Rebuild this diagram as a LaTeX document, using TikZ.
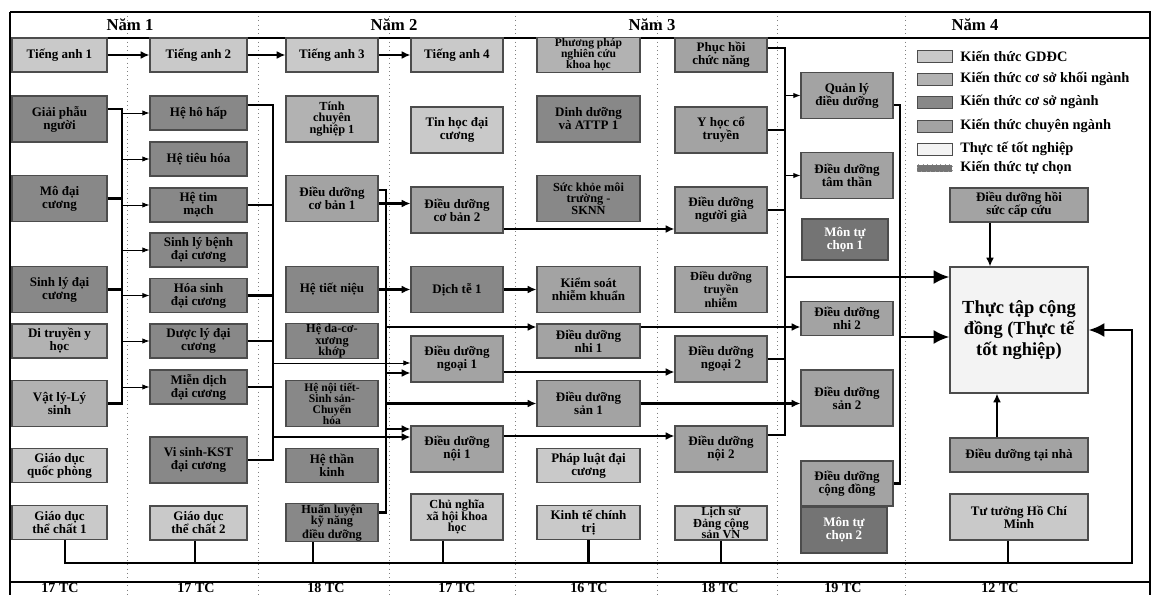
\documentclass[tikz,border=0pt]{standalone}
\usepackage{fontspec}
\setmainfont{Liberation Serif}
\usetikzlibrary{arrows.meta}
\definecolor{cgddc}{HTML}{C9C9C9}
\definecolor{ccskn}{HTML}{B2B2B2}
\definecolor{ccsn}{HTML}{888888}
\definecolor{ccn}{HTML}{A3A3A3}
\definecolor{ctttn}{HTML}{F3F3F3}
\definecolor{ctc}{HTML}{747474}
\tikzset{box/.style={draw=black!70, line width=0.6pt, align=center, inner sep=0.5pt,
   font=\bfseries\fontsize{7.4}{7.4}\selectfont},
 gddc/.style={box, fill=cgddc},
 cskn/.style={box, fill=ccskn},
 csn/.style={box, fill=ccsn},
 cn/.style={box, fill=ccn},
 tttn/.style={box, fill=ctttn, font=\bfseries\fontsize{10.5}{12}\selectfont},
 tuchon/.style={box, fill=ctc, text=white},
 tight/.style={font=\bfseries\fontsize{7}{6.5}\selectfont},
 tighter/.style={font=\bfseries\fontsize{6.6}{6.3}\selectfont},
 sh/.style={minimum height=0.68cm},
 tl/.style={minimum height=0.92cm},
 c1/.style={minimum width=1.9cm},
 c2/.style={minimum width=1.94cm},
 c3/.style={minimum width=1.84cm},
 c5/.style={minimum width=2.06cm},
 c8/.style={minimum width=2.76cm},
 bus/.style={line width=1.3pt},
 arr/.style={-{Latex[length=4pt,width=3pt]}, line width=0.5pt},
 arrT/.style={-{Latex[length=5pt,width=4.5pt]}, line width=1.3pt},
 arrB/.style={-{Latex[length=9pt,width=8pt]}, line width=1.6pt},
 year/.style={font=\bfseries\fontsize{9.5}{10}\selectfont},
 credit/.style={font=\bfseries\fontsize{8}{8}\selectfont, inner sep=0pt},
 swatch/.style={draw=black!70, line width=0.5pt, minimum width=0.7cm, minimum height=0.24cm, inner sep=0pt},
 legend/.style={anchor=west, font=\bfseries\fontsize{8.2}{9}\selectfont, inner sep=0pt},
}
\begin{document}
\begin{tikzpicture}[x=0.02cm, y=-0.02cm]
\useasboundingbox (0,0) rectangle (1156,595);
% frame and year columns
\foreach \x in {127,258,389,515,657,777,905}
  \draw[dotted, black!50] (\x,12) -- (\x,595);
\draw[line width=0.6pt] (10,12) -- (1150,12) -- (1150,595);
\draw[line width=0.6pt] (10,38) -- (1150,38);
\draw[line width=0.6pt] (10,582) -- (1150,582);
\draw[line width=1.4pt] (10,12) -- (10,595);
\node[year] (n1) at (130,25) {Năm 1};
\node[year] (n2) at (394,25) {Năm 2};
\node[year] (n3) at (652,25) {Năm 3};
\node[year] (n4) at (975,25) {Năm 4};
\node[credit] (tc1a) at (60,588) {17 TC};
\node[credit] (tc2a) at (196,588) {17 TC};
\node[credit] (tc3a) at (326,588) {18 TC};
\node[credit] (tc4a) at (457,588) {17 TC};
\node[credit] (tc5a) at (589,588) {16 TC};
\node[credit] (tc6a) at (720,588) {18 TC};
\node[credit] (tc7a) at (843,588) {19 TC};
\node[credit] (tc8a) at (1000,588) {12 TC};

% nam 1
\node[gddc, c1, sh] (ta1) at (59.5,55) {Tiếng anh 1};
\node[csn, c1, tl] (gp) at (59.5,119) {Giải phẫu\\người};
\node[csn, c1, tl] (mo) at (59.5,198.5) {Mô đại\\cương};
\node[csn, c1, tl] (sl) at (59.5,289.5) {Sinh lý đại\\cương};
\node[cskn, c1, sh] (dt) at (59.5,341) {Di truyền y\\học};
\node[cskn, c1, tl] (vl) at (59.5,403.5) {Vật lý-Lý\\sinh};
\node[gddc, c1, sh] (qp) at (59.5,465.5) {Giáo dục\\quốc phòng};
\node[gddc, c1, sh] (tc1) at (59.5,522.5) {Giáo dục\\thể chất 1};

\node[gddc, c2, sh] (ta2) at (198.5,55) {Tiếng anh 2};
\node[csn, c2, sh] (hhh) at (198.5,113) {Hệ hô hấp};
\node[csn, c2, sh] (htd) at (198.5,159) {Hệ tiêu hóa};
\node[csn, c2, sh] (htm) at (198.5,205) {Hệ tim\\mạch};
\node[csn, c2, sh] (slb) at (198.5,250) {Sinh lý bệnh\\đại cương};
\node[csn, c2, sh] (hs) at (198.5,295.5) {Hóa sinh\\đại cương};
\node[csn, c2, sh] (dl) at (198.5,341) {Dược lý đại\\cương};
\node[csn, c2, sh] (md) at (198.5,387) {Miễn dịch\\đại cương};
\node[csn, c2, tl] (vs) at (198.5,460) {Vi sinh-KST\\đại cương};
\node[gddc, c2, sh] (tc2) at (198.5,523) {Giáo dục\\thể chất 2};

% nam 2
\node[gddc, c3, sh] (ta3) at (332,55) {Tiếng anh 3};
\node[cskn, c3, tl, tight] (tcn) at (332,119) {Tính\\chuyên\\nghiệp 1};
\node[cn, c3, tl] (dcb1) at (332,198.5) {Điều dưỡng\\cơ bản 1};
\node[csn, c3, tl] (htn) at (332,289.5) {Hệ tiết niệu};
\node[csn, c3, sh, tight] (hdc) at (332,341) {Hệ da-cơ-\\xương\\khớp};
\node[csn, c3, tl, tighter] (hnt) at (332,403.5) {Hệ nội tiết-\\Sinh sản-\\Chuyển\\hóa};
\node[csn, c3, sh] (htk) at (332,465.5) {Hệ thần\\kinh};
\node[csn, c3, sh, tight] (hlkn) at (332,522.5) {Huấn luyện\\kỹ năng\\điều dưỡng};

\node[gddc, c3, sh] (ta4) at (457,55) {Tiếng anh 4};
\node[gddc, c3, tl] (thdc) at (457,130) {Tin học đại\\cương};
\node[cn, c3, tl] (dcb2) at (457,210) {Điều dưỡng\\cơ bản 2};
\node[csn, c3, tl] (dte) at (457,289.5) {Dịch tễ 1};
\node[cn, c3, tl] (dng1) at (457,359) {Điều dưỡng\\ngoại 1};
\node[cn, c3, tl] (dnoi1) at (457,449) {Điều dưỡng\\nội 1};
\node[gddc, c3, tl, tight] (cnxh) at (457,517) {Chủ nghĩa\\xã hội khoa\\học};

% nam 3
\node[cskn, c5, sh, tighter] (ppnc) at (588.5,55) {Phương pháp\\nghiên cứu\\khoa học};
\node[csn, c5, tl] (ddat) at (588.5,119) {Dinh dưỡng\\và ATTP 1};
\node[csn, c5, tl, tight] (skmt) at (588.5,198.5) {Sức khỏe môi\\trường -\\SKNN};
\node[cn, c5, tl] (ksnk) at (588.5,289.5) {Kiểm soát\\nhiễm khuẩn};
\node[cn, c5, sh] (dnhi1) at (588.5,341) {Điều dưỡng\\nhi 1};
\node[cn, c5, tl] (dsan1) at (588.5,403.5) {Điều dưỡng\\sản 1};
\node[gddc, c5, sh] (pl) at (588.5,465.5) {Pháp luật đại\\cương};
\node[gddc, c5, sh] (ktct) at (588.5,522.5) {Kinh tế chính\\trị};

\node[cn, c3, sh] (phcn) at (721,55) {Phục hồi\\chức năng};
\node[cn, c3, tl] (yhct) at (721,130) {Y học cổ\\truyền};
\node[cn, c3, tl] (dnga) at (721,210) {Điều dưỡng\\người già};
\node[cn, c3, tl, tight] (dtn) at (721,289.5) {Điều dưỡng\\truyền\\nhiễm};
\node[cn, c3, tl] (dng2) at (721,359) {Điều dưỡng\\ngoại 2};
\node[cn, c3, tl] (dnoi2) at (721,449) {Điều dưỡng\\nội 2};
\node[gddc, c3, sh, tight] (lsd) at (721,523) {Lịch sử\\Đảng cộng\\sản VN};

% nam 4
\node[cn, c3, tl] (qldd) at (847,95.5) {Quản lý\\điều dưỡng};
\node[cn, c3, tl] (dtt) at (847,175.5) {Điều dưỡng\\tâm thần};
\node[tuchon, minimum width=1.72cm, minimum height=0.82cm] (mtc1) at (845,239.5) {Môn tự\\chọn 1};
\node[cn, c3, sh] (dnhi2) at (847,318.5) {Điều dưỡng\\nhi 2};
\node[cn, c3, minimum height=1.12cm] (dsan2) at (847,398) {Điều dưỡng\\sản 2};
\node[cn, c3, minimum height=0.9cm] (dcd) at (847,483.5) {Điều dưỡng\\cộng đồng};
\node[tuchon, minimum width=1.72cm, minimum height=0.92cm] (mtc2) at (844,530) {Môn tự\\chọn 2};

\node[cn, c8, sh] (dhs) at (1019,205) {Điều dưỡng hồi\\sức cấp cứu};
\node[tttn, c8, minimum height=2.52cm] (tt) at (1019,330) {Thực tập cộng\\đồng (Thực tế\\tốt nghiệp)};
\node[cn, c8, sh] (dtnha) at (1019,455) {Điều dưỡng tại nhà};
\node[gddc, c8, tl] (tthcm) at (1019,517) {Tư tưởng Hồ Chí\\Minh};

% legend
\node[swatch, fill=cgddc] (s1) at (934.5,56) {};
\node[swatch, fill=ccskn] (s2) at (934.5,79) {};
\node[swatch, fill=ccsn] (s3) at (934.5,102) {};
\node[swatch, fill=ccn] (s4) at (934.5,126) {};
\node[swatch, fill=ctttn] (s5) at (934.5,149) {};
\node[swatch, fill=ctc, draw=black!40, dotted, minimum height=0.14cm] (s6) at (934.5,168) {};
\node[legend] (l1) at (960,56) {Kiến thức GDĐC};
\node[legend] (l2) at (960,79) {Kiến thức cơ sở khối ngành};
\node[legend] (l3) at (960,102) {Kiến thức cơ sở ngành};
\node[legend] (l4) at (960,126) {Kiến thức chuyên ngành};
\node[legend] (l5) at (960,149) {Thực tế tốt nghiệp};
\node[legend] (l6) at (960,168) {Kiến thức tự chọn};

% tieng anh
\draw[arrT] (ta1) -- (ta2);
\draw[arrT] (ta2) -- (ta3);
\draw[arrT] (ta3) -- (ta4);

% nam 1 -> he co quan
\coordinate (b1t) at (122,109);
\draw[bus] (gp.east |- b1t) -- (b1t) |- (vl.east);
\foreach \n in {mo,sl}
  \draw[bus] (\n.east) -- (\n.east -| b1t);
\foreach \n in {hhh,htd,htm,slb,hs,dl,md}
  \draw[arr] (\n.west -| b1t) -- (\n.west);

\coordinate (b2t) at (273,105);
\draw[bus] (hhh.east |- b2t) -- (b2t) |- (vs.east);
\foreach \n in {htm,hs,dl,md}
  \draw[bus] (\n.east) -- (\n.east -| b2t);
\coordinate (p1) at ([yshift=-0.08cm]dng1.west);
\draw[arr] (b2t |- p1) -- (p1);
\coordinate (p2) at ([yshift=0.24cm]dnoi1.west);
\draw[arrT] (b2t |- p2) -- (p2);

% nam 2
\coordinate (b3t) at (386,190);
\draw[bus] (dcb1.east |- b3t) -- (b3t) |- ([yshift=0.2cm]hlkn.east);
\draw[arrT] ([yshift=-0.1cm]dcb1.east) -- ([yshift=-0.1cm]dcb1.east -| dcb2.west);
\draw[arrT] (htn) -- (dte);
\coordinate (p3) at ([yshift=-0.28cm]dng1.west);
\draw[arrT] (b3t |- p3) -- (p3);
\coordinate (p4) at ([yshift=0.4cm]dnoi1.west);
\draw[arrT] (b3t |- p4) -- (p4);
\coordinate (p5) at ([yshift=0.28cm]dnhi1.west);
\draw[arrT] (b3t |- p5) -- (p5);
\draw[arrT] (dsan1.west -| b3t) -- (dsan1.west);

\coordinate (p6) at ([yshift=-0.38cm]dnga.west);
\draw[arrT] (dcb2.east |- p6) -- (p6);
\draw[arrT] (dte) -- (ksnk);
\coordinate (p7) at ([yshift=-0.26cm]dng2.west);
\draw[arrT] (dng1.east |- p7) -- (p7);
\coordinate (p8) at ([yshift=0.26cm]dnoi2.west);
\draw[arrT] (dnoi1.east |- p8) -- (p8);

% nam 3
\coordinate (p9) at ([yshift=-0.17cm]dnhi2.west);
\draw[arrT] (dnhi1.east |- p9) -- (p9);
\draw[arrT] (dsan1.east) -- (dsan1.east -| dsan2.west);
\coordinate (b6t) at (785,48);
\draw[bus] (phcn.east |- b6t) -- (b6t) |- ([yshift=0.28cm]dnoi2.east);
\foreach \n in {yhct,dnga,dng2}
  \draw[bus] (\n.east) -- (\n.east -| b6t);
\draw[arr] (qldd.west -| b6t) -- (qldd.west);
\draw[arr] (dtt.west -| b6t) -- (dtt.west);

% nam 4
\coordinate (b7t) at (900,105);
\draw[bus] (qldd.east |- b7t) -- (b7t) |- (dcd.east);
\coordinate (p10) at ([yshift=1.06cm]tt.west);
\draw[arrB] (b6t |- p10) -- (p10);
\coordinate (p11) at ([yshift=-0.14cm]tt.west);
\draw[arrB] (b7t |- p11) -- (p11);
\coordinate (p12) at ([xshift=-0.58cm]tt.north);
\draw[arrT] (dhs.south -| p12) -- (p12);
\coordinate (p13) at ([xshift=-0.44cm]tt.south);
\draw[arrT] (dtnha.north -| p13) -- (p13);

% duong chung phia duoi
\coordinate (bus1) at (1132,563);
\draw[arrB] ([xshift=0.11cm]tc1.south) |- (bus1) |- (tt.east);
\draw[bus] ([xshift=-0.07cm]tc2.south) -- ([xshift=-0.07cm]tc2.south |- bus1);
\draw[bus] ([xshift=-0.38cm]hlkn.south) -- ([xshift=-0.38cm]hlkn.south |- bus1);
\draw[bus] ([xshift=-0.28cm]cnxh.south) -- ([xshift=-0.28cm]cnxh.south |- bus1);
\draw[bus] (ktct.south) -- (ktct.south |- bus1);
\draw[bus] (lsd.south) -- (lsd.south |- bus1);
\draw[bus] ([xshift=-0.22cm]tthcm.south) -- ([xshift=-0.22cm]tthcm.south |- bus1);
\end{tikzpicture}
\end{document}
